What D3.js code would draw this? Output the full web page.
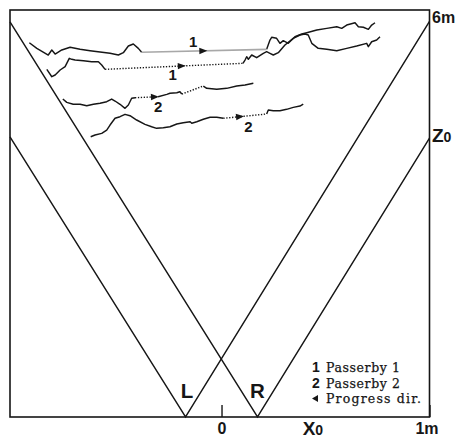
<!DOCTYPE html>
<html><head><meta charset="utf-8">
<script src="https://cdn.jsdelivr.net/npm/d3@7"></script>
<style>body{margin:0;background:#fff}svg{display:block}</style>
</head><body>
<svg id="chart" width="457" height="438"></svg>
<script>
// Plan view of the detection area (x across, z depth, metres)
const xMin = -1.017, xMax = 1, zMax = 6.167;

// Two sensors on the base line and the slopes of their field-of-view edges
const sensorNames = ['L', 'R'];
const sensorX = [-0.173, 0.173];
const leftEdgeSlope = 5.03;
const rightEdgeSlope = 5.11;

// Passerby 1, first pass
const trackA1 = [[-0.924,5.671],[-0.888,5.586],[-0.833,5.485],[-0.816,5.561],[-0.800,5.500],[-0.768,5.561],[-0.728,5.602],[-0.680,5.571],[-0.632,5.550],[-0.584,5.530],[-0.536,5.511],[-0.496,5.485],[-0.472,5.520],[-0.448,5.621],[-0.424,5.652],[-0.400,5.586],[-0.384,5.526]];
const gapA = [[-0.384,5.526],[0.217,5.571]];
const trackA2 = [[0.217,5.571],[0.233,5.712],[0.241,5.753],[0.265,5.738],[0.281,5.662],[0.297,5.702],[0.321,5.662],[0.353,5.762],[0.386,5.803],[0.410,5.823],[0.458,5.864],[0.506,5.889],[0.554,5.914],[0.578,5.889],[0.602,5.939],[0.642,5.974],[0.658,5.914],[0.682,5.905],[0.706,5.874],[0.722,5.939],[0.738,5.974]];

// Passerby 1, second pass
const trackB1 = [[-0.840,5.268],[-0.816,5.156],[-0.800,5.182],[-0.776,5.258],[-0.752,5.308],[-0.732,5.435],[-0.720,5.420],[-0.704,5.409],[-0.664,5.398],[-0.624,5.383],[-0.592,5.383],[-0.576,5.333],[-0.560,5.268]];
const gapB = [[-0.560,5.268],[0.103,5.359]];
const trackB2 = [[0.103,5.359],[0.113,5.409],[0.121,5.459],[0.129,5.420],[0.145,5.485],[0.169,5.444],[0.201,5.511],[0.217,5.535],[0.233,5.511],[0.249,5.485],[0.273,5.520],[0.305,5.636],[0.345,5.738],[0.377,5.788],[0.401,5.803],[0.417,5.788],[0.434,5.662],[0.465,5.586],[0.506,5.571],[0.554,5.550],[0.602,5.586],[0.650,5.621],[0.698,5.662],[0.706,5.611],[0.722,5.686],[0.746,5.712],[0.762,5.762]];

// Passerby 2, first pass
const trackC1 = [[-0.763,4.818],[-0.744,4.768],[-0.713,4.738],[-0.680,4.738],[-0.648,4.717],[-0.616,4.738],[-0.584,4.753],[-0.552,4.777],[-0.528,4.818],[-0.512,4.788],[-0.488,4.738],[-0.464,4.677],[-0.448,4.727],[-0.432,4.829],[-0.416,4.838]];
const gapC1 = [[-0.416,4.838],[-0.305,4.853]];
const trackC2 = [[-0.305,4.853],[-0.263,4.889],[-0.248,4.905],[-0.215,4.914],[-0.200,4.929],[-0.191,4.894]];
const gapC2 = [[-0.191,4.894],[-0.0875,5.015]];
const trackC3 = [[-0.0875,5.015],[-0.071,4.980],[-0.023,4.965],[0.025,4.980],[0.073,5.015],[0.113,5.030],[0.153,5.056]];

// Passerby 2, second pass
const trackD1 = [[-0.629,4.247],[-0.608,4.273],[-0.576,4.298],[-0.552,4.348],[-0.536,4.424],[-0.512,4.526],[-0.488,4.550],[-0.464,4.586],[-0.440,4.565],[-0.408,4.500],[-0.368,4.435],[-0.336,4.398],[-0.312,4.374],[-0.280,4.383],[-0.248,4.398],[-0.215,4.439],[-0.184,4.459],[-0.151,4.474],[-0.143,4.450],[-0.119,4.474],[-0.0875,4.511],[-0.055,4.541],[-0.023,4.541],[0.009,4.526]];
const gapD = [[0.009,4.526],[0.217,4.591]];
const trackD2 = [[0.217,4.591],[0.225,4.652],[0.249,4.641],[0.281,4.641],[0.313,4.662],[0.345,4.692],[0.377,4.712],[0.393,4.742]];

// Direction arrows: [segment, x position]
const arrowSegments = [gapA, gapB, gapC1, gapD];
const arrowX = [-0.0875, -0.191, -0.320, 0.089];

// Track labels
const trackLabels = ['1', '1', '2', '2'];
const trackLabelX = [-0.136, -0.235, -0.304, 0.129];
const trackLabelZ = [5.686, 5.182, 4.702, 4.398];

// Legend
const legendKeys = ['1', '2', ''];
const legendText = ['Passerby 1', 'Passerby 2', 'Progress dir.'];
const legendWidth = [74, 74, 95];

const svg = d3.select('#chart');
const x = d3.scaleLinear().domain([xMin, xMax]).range([10, 429.5]);
const y = d3.scaleLinear().domain([0, zMax]).range([417, 10]);
const ink = '#161616';
const sans = '"Liberation Sans", Arial, sans-serif';

// Frame
svg.append('rect')
  .attr('x', x(xMin)).attr('y', y(zMax))
  .attr('width', x(xMax) - x(xMin)).attr('height', y(0) - y(zMax))
  .attr('fill', 'none').attr('stroke', ink).attr('stroke-width', 1.6);

// Field-of-view edges of each sensor
const line = d3.line().x(d => x(d[0])).y(d => y(d[1]));
sensorX.forEach(sx => {
  const leftEnd = [xMin, leftEdgeSlope * (sx - xMin)];
  const rightEnd = [xMax, rightEdgeSlope * (xMax - sx)];
  svg.append('path').attr('d', line([leftEnd, [sx, 0], rightEnd]))
    .attr('fill', 'none').attr('stroke', ink).attr('stroke-width', 1.45);
});

// Tracks
const solid = [trackA1, trackA2, trackB1, trackB2, trackC1, trackC2, trackC3, trackD1, trackD2];
const dotted = [gapB, gapC1, gapC2, gapD];
const faint = [gapA];
svg.selectAll('path.solid').data(solid).join('path').attr('class', 'solid')
  .attr('d', line).attr('fill', 'none').attr('stroke', ink)
  .attr('stroke-width', 1.45).attr('stroke-linejoin', 'round');
svg.selectAll('path.dotted').data(dotted).join('path').attr('class', 'dotted')
  .attr('d', line).attr('fill', 'none').attr('stroke', ink)
  .attr('stroke-width', 1.4).attr('stroke-dasharray', '1.3,1.6');
svg.selectAll('path.faint').data(faint).join('path').attr('class', 'faint')
  .attr('d', line).attr('fill', 'none').attr('stroke', '#a8a8a8').attr('stroke-width', 1.6);

// Arrow heads along the gaps
arrowSegments.forEach((seg, i) => {
  const [p0, p1] = seg;
  const t = (arrowX[i] - p0[0]) / (p1[0] - p0[0]);
  const z = p0[1] + t * (p1[1] - p0[1]);
  const ang = Math.atan2(y(p1[1]) - y(p0[1]), x(p1[0]) - x(p0[0])) * 180 / Math.PI;
  svg.append('path').attr('d', 'M4,0L-4,-3.2L-4,3.2Z').attr('fill', ink)
    .attr('transform', `translate(${x(arrowX[i])},${y(z)}) rotate(${ang})`);
});

svg.selectAll('text.track').data(trackLabels).join('text').attr('class', 'track')
  .attr('x', (d, i) => x(trackLabelX[i])).attr('y', (d, i) => y(trackLabelZ[i]))
  .attr('dy', '0.36em').attr('text-anchor', 'middle')
  .attr('font-family', sans).attr('font-weight', 'bold').attr('font-size', 15)
  .attr('fill', ink).text(d => d);

// Sensor names
svg.selectAll('text.sensor').data(sensorNames).join('text').attr('class', 'sensor')
  .attr('x', (d, i) => x(sensorX[i]) + (i === 0 ? 1.5 : 0)).attr('y', y(0) - 19)
  .attr('text-anchor', 'middle').attr('font-family', sans).attr('font-weight', 'bold')
  .attr('font-size', 20.5).attr('fill', ink).text(d => d);

// Bottom axis: origin tick and 1 m mark
const xAxis = d3.axisBottom(x).tickValues([0, 1])
  .tickFormat(d => d === 0 ? '0' : '1m').tickSizeInner(-12).tickSizeOuter(0).tickPadding(6);
const gx = svg.append('g').attr('transform', `translate(0,${y(0)})`).call(xAxis);
gx.select('.domain').remove();
gx.selectAll('line').attr('stroke', ink).attr('stroke-width', 1.4);
gx.selectAll('text').attr('font-family', sans).attr('font-weight', 'bold')
  .attr('font-size', 16).attr('fill', ink)
  .attr('dx', d => d === 1 ? -3 : 0);

// Axis names with subscript zero
function axisName(px, py, main) {
  const t = svg.append('text').attr('x', px).attr('y', py)
    .attr('font-family', sans).attr('font-weight', 'bold').attr('fill', ink);
  t.append('tspan').attr('font-size', 19).text(main);
  t.append('tspan').attr('font-size', 14).text('0');
}
axisName(x(0.39), 435, 'X');
const z0 = rightEdgeSlope * (xMax - sensorX[1]);
axisName(x(xMax) + 2.5, y(z0) + 4, 'Z');

// Depth mark at the top of the right side
svg.append('text').attr('x', x(xMax) + 2.5).attr('y', y(6) + 2)
  .attr('font-family', sans).attr('font-weight', 'bold').attr('font-size', 16)
  .attr('fill', ink).text('6m');

// Legend
const lg = svg.append('g').attr('transform', 'translate(312,372)');
legendText.forEach((txt, i) => {
  const row = lg.append('g').attr('transform', `translate(0,${i * 15.5})`);
  if (legendKeys[i]) {
    row.append('text').attr('x', 0).attr('y', 0)
      .attr('font-family', sans).attr('font-weight', 'bold').attr('font-size', 14)
      .attr('fill', ink).text(legendKeys[i]);
  } else {
    row.append('path').attr('d', 'M0,-4.5L6,-8L6,-1Z').attr('fill', ink);
  }
  row.append('text').attr('x', 14).attr('y', 0)
    .attr('font-family', '"DejaVu Serif", serif').attr('font-size', 12.5)
    .attr('stroke', ink).attr('stroke-width', 0.25)
    .attr('textLength', legendWidth[i]).attr('lengthAdjust', 'spacing')
    .attr('fill', ink).text(txt);
});
</script>
</body></html>
